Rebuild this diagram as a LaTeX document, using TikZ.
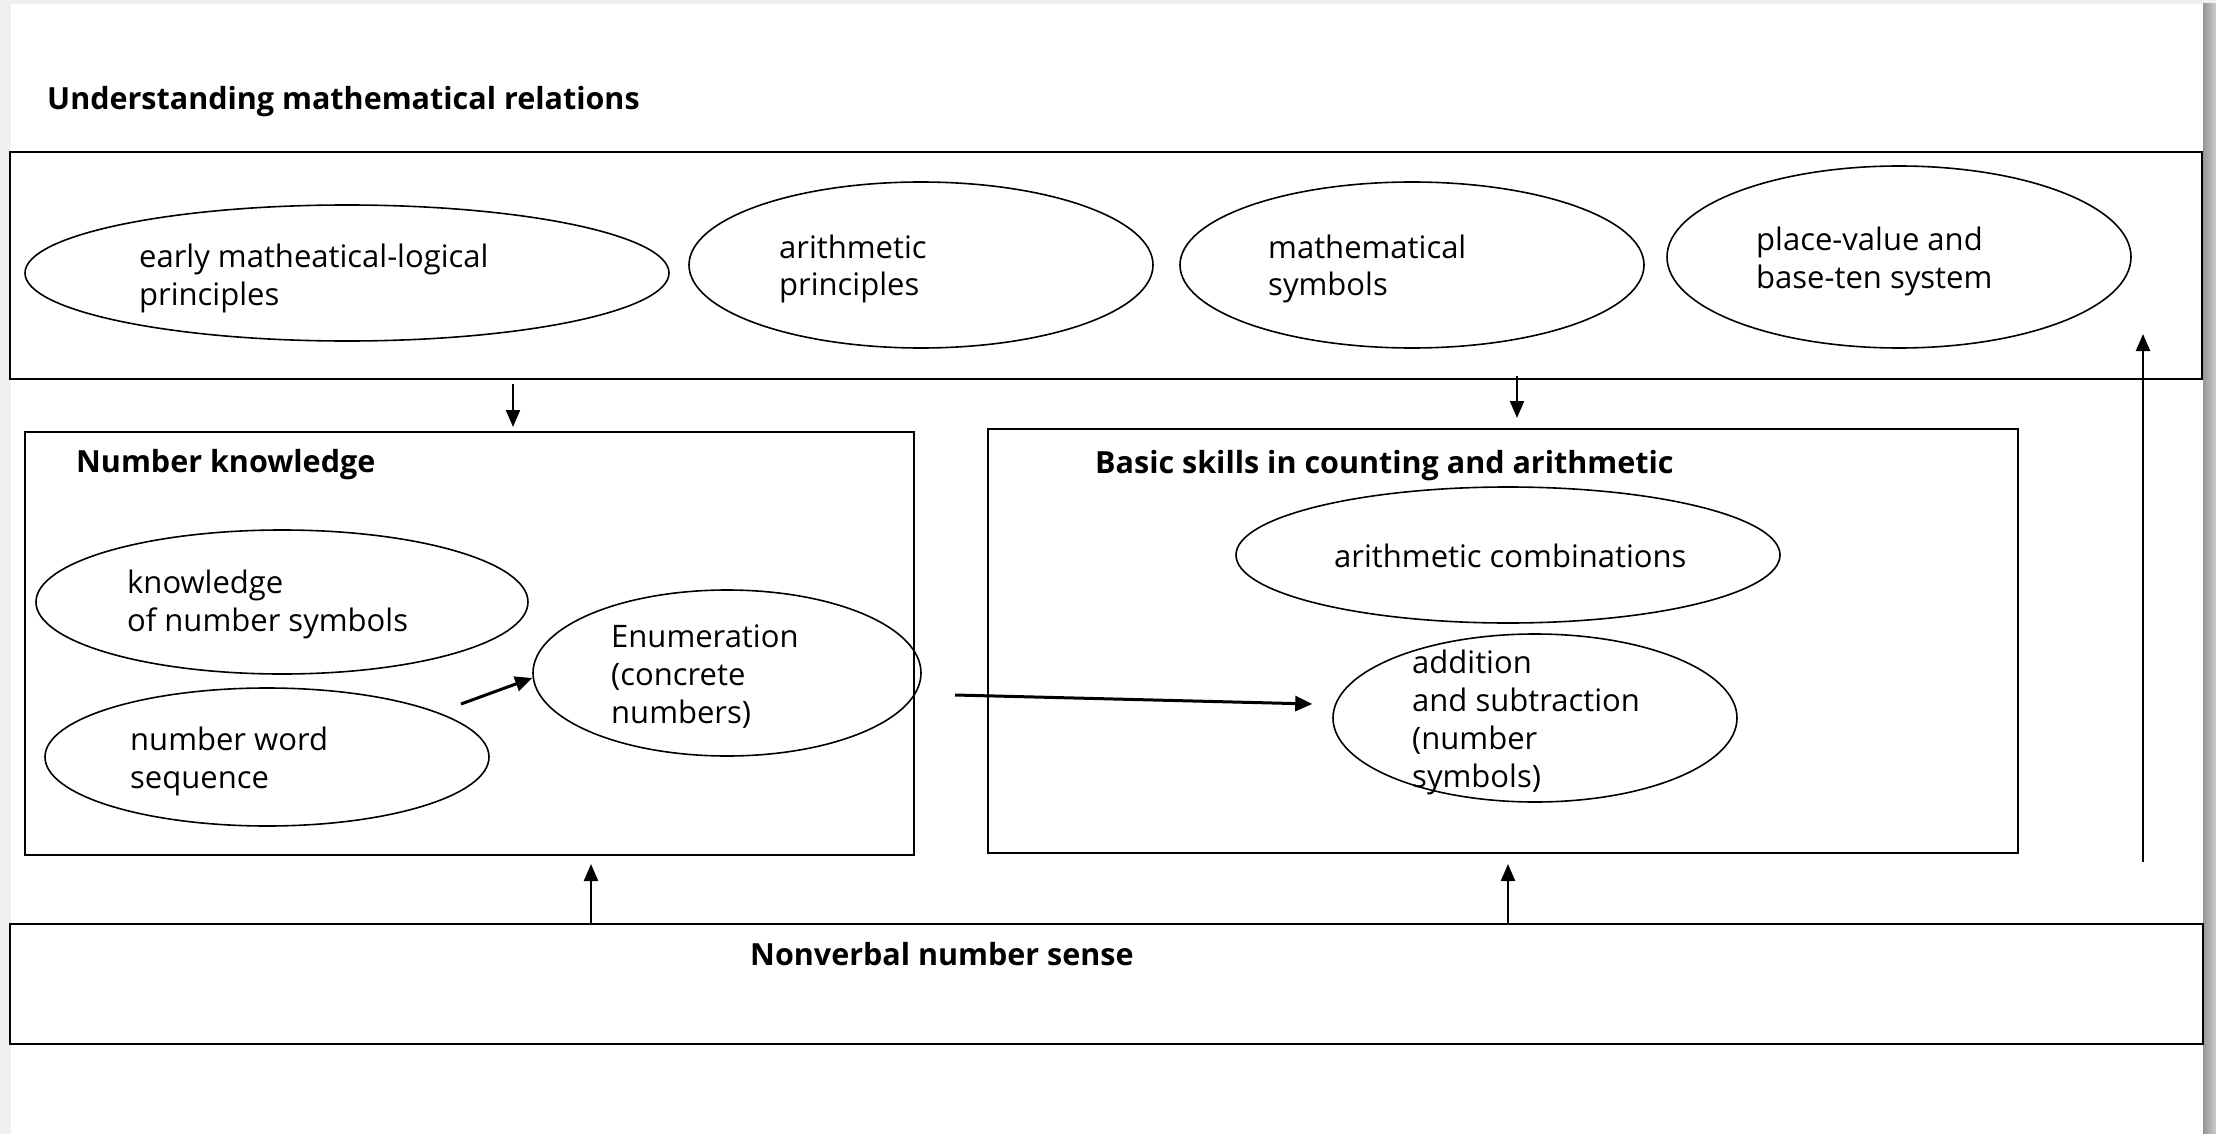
\documentclass[tikz,border=0pt]{standalone}
\usepackage{fontspec}
\setmainfont{Open Sans}
\usetikzlibrary{arrows.meta,shapes.geometric}

% multi-line label whose reference point is the first baseline
\newcommand{\stacked}[1]{\begin{tabular}[t]{@{}l@{}}#1\end{tabular}}

\definecolor{pagegrey}{RGB}{240,240,240}
\definecolor{shadowdark}{RGB}{150,150,150}
\definecolor{shadowlight}{RGB}{205,205,205}

\tikzset{
  panel/.style={draw, line width=2pt, rectangle, inner sep=0pt},
  oval/.style={draw, line width=1.6pt, ellipse, inner sep=0pt},
  txt/.style={anchor=base west, inner sep=0pt, font=\fontsize{31}{38}\selectfont},
  heading/.style={anchor=base west, inner sep=0pt, font=\fontsize{30.5}{36}\selectfont\bfseries},
  arr/.style={line width=2.2pt, -{Triangle[length=17pt,width=14pt]}},
  boldarr/.style={line width=3pt, -{Triangle[length=17pt,width=15pt]}}
}

\begin{document}
\begin{tikzpicture}[x=1pt, y=-1pt]
  % page and its surroundings
  \useasboundingbox (0,0) rectangle (2216,1134);
  \fill[pagegrey] (0,0) rectangle (2216,1134);
  \fill[white] (11,4) rectangle (2203,1134);
  \shade[left color=shadowdark, right color=shadowlight] (2203,4) rectangle (2216,1134);

  % title above the top band
  \node[heading] (title) at (47,110) {Understanding mathematical relations};

  % top band: mathematical relations
  \node[panel, minimum width=2192pt, minimum height=227pt] (top) at (1106,265.5) {};
  \node[oval, minimum width=644pt, minimum height=136pt] (e1) at (347,273) {};
  \node[oval, minimum width=464pt, minimum height=166pt] (e2) at (921,265) {};
  \node[oval, minimum width=464pt, minimum height=166pt] (e3) at (1412,265) {};
  \node[oval, minimum width=464pt, minimum height=182pt] (e4) at (1899,257) {};
  \node[txt] (t1) at (139,267) {\stacked{early matheatical-logical\\principles}};
  \node[txt] (t2) at (779,258) {\stacked{arithmetic\\principles}};
  \node[txt] (t3) at (1268,258) {\stacked{mathematical\\symbols}};
  \node[txt] (t4) at (1756,250) {\stacked{place-value and\\base-ten system}};

  % number knowledge panel
  \node[panel, minimum width=889pt, minimum height=423pt] (nk) at (469.5,643.5) {};
  \node[heading] (nkh) at (76,472) {Number knowledge};
  \node[oval, minimum width=492pt, minimum height=144pt] (ek) at (282,602) {};
  \node[oval, minimum width=444pt, minimum height=138pt] (ew) at (267,757) {};
  \node[oval, minimum width=388pt, minimum height=166pt] (en) at (727,673) {};
  \node[txt] (tk) at (127,593) {\stacked{knowledge\\of number symbols}};
  \node[txt] (tw) at (130,750) {\stacked{number word\\sequence}};
  \node[txt] (tn) at (611,647) {\stacked{Enumeration\\(concrete\\numbers)}};

  % counting and arithmetic panel
  \node[panel, minimum width=1030pt, minimum height=424pt] (bs) at (1503,641) {};
  \node[heading] (bsh) at (1095,473) {Basic skills in counting and arithmetic};
  \node[oval, minimum width=544pt, minimum height=136pt] (ac) at (1508,555) {};
  \node[oval, minimum width=404pt, minimum height=168pt] (as) at (1535,718) {};
  \node[txt] (tac) at (1334,567) {arithmetic combinations};
  \node[txt] (tas) at (1412,673) {\stacked{addition\\and subtraction\\(number\\symbols)}};

  % nonverbal number sense band
  \node[panel, minimum width=2193pt, minimum height=120pt] (nv) at (1106.5,984) {};
  \node[heading] (nvh) at (750,965) {Nonverbal number sense};

  % x positions of the vertical connectors
  \coordinate (xa) at (513,0);
  \coordinate (xb) at (1517,0);
  \coordinate (xc) at (591,0);
  \coordinate (xd) at (1508,0);
  \coordinate (up0) at (2143,862);
  \coordinate (up1) at (2143,334);
  \coordinate (wordout) at (461,704);
  \coordinate (enumout) at (955,695);

  % connectors
  \draw[arr] ([yshift=-4pt]top.south -| xa) -- ([yshift=4pt]nk.north -| xa);
  \draw[arr] ([yshift=4pt]top.south -| xb) -- ([yshift=10pt]bs.north -| xb);
  \draw[arr] (nv.north -| xc) -- ([yshift=-8pt]nk.south -| xc);
  \draw[arr] (nv.north -| xd) -- ([yshift=-10pt]bs.south -| xd);
  \draw[arr] (up0) -- (up1);
  \draw[boldarr] (wordout) -- ([yshift=-5pt]en.west);
  \draw[boldarr] (enumout) -- ([xshift=-20pt,yshift=14pt]as.west);
\end{tikzpicture}
\end{document}
